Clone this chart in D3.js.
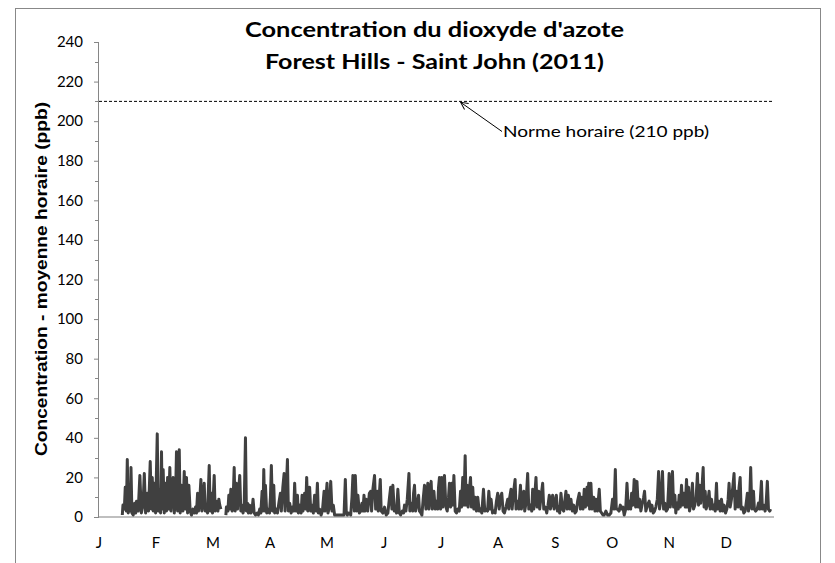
<!DOCTYPE html>
<html><head><meta charset="utf-8">
<script src="https://cdn.jsdelivr.net/npm/d3@7"></script>
<style>body{margin:0;background:#fff}svg{display:block}</style>
</head><body><div id="c"></div>
<script>
const titleLines = ["Concentration du dioxyde d'azote", "Forest Hills - Saint John (2011)"];
const yAxisTitle = "Concentration - moyenne horaire (ppb)";
const monthLabels = ["J","F","M","A","M","J","J","A","S","O","N","D"];
const monthTickDays = [0,30.8,61.6,92.5,123.3,154.2,185,215.8,246.7,277.5,308.3,339.2];
const yTicks = [0,20,40,60,80,100,120,140,160,180,200,220,240];
const normValue = 210;
const normLabel = "Norme horaire (210 ppb)";
const normArrowDay = 195.6;
// [day of year, NO2 ppb]; null = missing data
const seg1 = [[12.6,1],[12.96,6],[13.7,4],[14.2,15],[14.8,3],[15.3,29],[15.8,2],[16.4,16],[16.9,3],[17.3,25],[17.8,2],[18.5,1],[19.3,7],[19.8,2],[20.3,8],[21.2,3],[22.1,21],[22.9,2],[23.8,6],[24.5,22],[25.2,2],[26.1,12],[26.8,3],[27.7,28],[28.3,4],[28.8,20],[29.3,3],[29.9,17],[30.6,2],[31.5,42],[32.0,3],[32.8,14],[33.3,2],[33.8,33],[34.2,4],[34.7,24],[35.3,2],[36.0,17],[36.5,3],[37.1,20],[37.6,4],[38.3,25],[38.9,3],[39.6,14],[40.1,20],[40.7,2],[41.4,10],[41.9,33],[42.5,3],[43.4,34],[43.9,2],[44.6,16],[45.4,3],[46.1,23],[46.6,4],[47.3,20],[47.9,2],[48.6,16],[49.3,3],[50.0,1],[50.8,4],[51.5,2],[52.2,5],[52.7,2],[53.3,12],[53.8,3],[54.5,9],[55.1,19],[55.6,3],[56.3,8],[56.9,17],[57.4,3],[58.1,6],[58.7,2],[59.6,26],[60.1,3],[60.8,12],[61.4,2],[62.3,21],[62.8,3],[63.5,8],[64.3,3],[64.8,9],[65.3,6],[65.9,4]];
const seg2 = [[68.6,1],[68.9,5],[69.7,3],[70.2,11],[70.7,4],[71.3,14],[72.0,3],[72.5,8],[73.1,25],[73.6,3],[74.3,17],[74.9,4],[75.4,12],[76.1,21],[76.7,3],[77.4,6],[77.9,2],[78.5,5],[79.2,40],[79.7,3],[80.3,7],[80.8,2],[81.5,6],[82.1,2],[82.8,4],[83.3,9],[83.9,2],[84.6,1],[85.5,2],[86.2,1],[86.9,4],[87.5,2],[88.2,13],[88.7,3],[89.1,24],[89.6,3],[90.0,16],[90.7,2],[91.4,4],[92.2,2],[92.7,10],[93.2,26],[93.8,3],[94.5,16],[95.0,2],[95.9,4],[96.5,2],[97.4,8],[98.1,12],[98.6,3],[99.4,15],[100.1,22],[100.6,3],[101.3,15],[101.9,29],[102.4,3],[103.1,7],[103.9,2],[104.6,5],[105.3,3],[105.8,17],[106.4,3],[107.3,11],[107.8,2],[108.5,6],[109.3,2],[109.8,11],[110.3,3],[111.2,12],[111.8,4],[112.3,20],[112.9,3],[113.9,15],[114.5,3],[115.2,6],[115.9,2],[116.6,11],[117.4,3],[118.1,17],[118.6,2],[119.3,4],[120.1,1],[120.8,3],[121.7,13],[122.2,3],[123.3,17],[123.8,2],[124.6,5],[125.3,18],[126.0,3],[126.7,6],[127.4,1],[132.5,1],[133.2,19],[133.7,3],[134.3,1],[135.0,2],[136.1,1],[136.8,10],[137.3,21],[138.1,3],[138.6,21],[139.3,3],[140.0,11],[140.8,2],[141.5,3],[142.2,7],[142.7,3],[143.3,11],[143.8,3],[144.5,9],[145.3,3],[146.2,12],[146.9,13],[147.4,3],[148.1,14],[149.0,21],[149.6,4],[150.5,13],[151.0,3],[152.1,19],[152.6,3],[153.5,2],[154.4,5],[155.3,1],[156.2,2],[157.1,10],[157.7,15],[158.4,4],[158.9,16],[159.7,3],[160.4,4],[160.9,2],[161.6,14],[162.4,2],[163.1,1],[164.0,3],[164.7,2],[165.2,6],[165.96,3],[166.7,9],[167.6,22],[168.1,3],[168.8,7],[169.6,3],[170.1,12],[170.6,16],[171.2,3],[171.9,6],[172.8,11],[173.3,3],[174.1,2],[174.6,1],[175.3,9],[176.0,16],[176.8,4],[177.3,12],[177.8,17],[178.4,4],[179.1,14],[179.6,18],[180.2,4],[181.1,13],[181.8,4],[182.3,8],[183.1,4],[183.6,15],[184.1,20],[184.7,4],[185.4,20],[185.9,5],[186.8,21],[187.6,5],[188.3,3],[189.0,10],[189.5,17],[190.1,5],[190.8,17],[191.3,6],[191.9,21],[192.6,3],[193.3,2],[194.0,4],[194.8,3],[195.5,13],[196.0,5],[196.7,20],[197.3,6],[198.0,31],[198.5,6],[199.1,16],[199.6,5],[200.3,14],[200.9,20],[201.4,5],[202.1,15],[202.7,4],[203.4,10],[204.1,3],[204.8,10],[205.6,3],[206.3,4],[207.0,2],[207.9,14],[208.6,3],[209.3,4],[210.1,3],[210.8,13],[211.5,4],[212.0,9],[212.8,2],[213.5,3],[214.2,2],[214.9,8],[215.6,12],[216.4,4],[217.1,10],[217.8,12],[218.5,3],[219.2,2],[220.1,5],[221.0,9],[221.6,4],[222.1,10],[222.8,14],[223.4,4],[224.1,12],[225.0,19],[225.5,4],[226.3,8],[227.0,4],[227.9,16],[228.4,4],[229.1,10],[229.7,13],[230.2,3],[230.9,7],[231.8,22],[232.4,4],[233.3,6],[234.0,3],[234.5,14],[235.1,4],[235.8,13],[236.3,20],[236.9,5],[237.8,13],[238.3,4],[239.0,10],[239.9,17],[240.5,4],[241.4,5],[242.1,2],[242.8,6],[243.5,11],[244.1,4],[244.8,8],[245.3,11],[246.1,4],[247.3,11],[247.9,3],[248.6,5],[249.1,2],[249.8,12],[250.6,4],[251.3,3],[252.0,9],[252.5,13],[253.1,4],[253.8,11],[254.5,4],[255.2,9],[255.96,3],[256.7,6],[257.4,2],[258.1,3],[258.8,8],[259.7,12],[260.3,4],[261.0,10],[261.7,4],[262.4,14],[263.0,5],[263.9,15],[264.2,6],[264.8,17],[265.3,4],[266.0,17],[266.6,4],[267.5,10],[268.2,3],[268.7,9],[269.5,3],[270.5,14],[271.1,3],[271.8,2],[272.5,1],[273.2,1],[274.1,3],[275.0,1],[275.9,1],[276.8,2],[277.7,9],[278.5,4],[279.2,24],[279.7,4],[280.4,4],[281.2,3],[281.9,6],[282.6,4],[283.3,5],[284.0,1],[284.8,4],[285.5,17],[286.2,4],[286.9,8],[287.5,4],[288.0,12],[288.7,6],[289.4,19],[290.2,5],[290.9,18],[291.6,5],[292.3,9],[293.0,3],[293.8,7],[294.5,10],[295.0,13],[295.7,3],[296.6,6],[297.5,8],[298.3,3],[298.97,6],[299.7,2],[300.4,3],[301.1,5],[301.9,9],[302.6,23],[303.1,4],[303.8,8],[304.7,23],[305.3,4],[306.0,7],[306.7,3],[307.4,4],[308.0,15],[308.3,22],[308.9,5],[309.4,10],[310.1,23],[310.7,5],[311.4,11],[311.9,2],[312.5,7],[313.2,4],[313.7,11],[314.3,5],[315.0,16],[315.5,6],[316.3,12],[317.0,5],[317.7,19],[318.2,5],[318.8,15],[319.3,3],[320.0,6],[320.9,17],[321.5,4],[322.2,6],[322.9,10],[323.6,22],[324.2,6],[324.9,16],[325.4,7],[326.2,17],[326.7,25],[327.2,5],[327.8,13],[328.3,4],[329.0,6],[329.9,13],[330.5,4],[331.2,9],[331.9,4],[332.6,6],[333.2,3],[333.9,17],[334.4,4],[335.3,8],[335.9,3],[336.6,9],[337.3,3],[338.0,6],[338.8,2],[339.5,4],[340.2,9],[340.7,17],[341.3,5],[342.0,9],[342.7,15],[343.4,22],[344.0,4],[344.9,13],[345.6,5],[346.1,15],[346.7,20],[347.2,4],[347.9,5],[348.7,2],[349.4,3],[350.1,8],[350.6,12],[351.2,3],[351.9,10],[352.4,25],[353.0,4],[353.9,13],[354.4,4],[355.1,3],[355.9,4],[356.6,7],[357.3,4],[358.2,18],[358.7,4],[359.5,6],[360.2,3],[360.7,6],[361.4,18],[362.0,4],[362.7,3],[363.2,4]];
const series = seg1.concat([[67.2,null]], seg2);

const W = 835, H = 563;
const m = {left: 99, right: 774, top: 42, bottom: 517};
const svg = d3.select("#c").append("svg").attr("width", W).attr("height", H);
svg.append("rect").attr("x", 15.5).attr("y", 8.5).attr("width", 805).attr("height", 580)
  .attr("fill", "#fff").attr("stroke", "#888").attr("stroke-width", 1);

const x = d3.scaleLinear().domain([0, 365]).range([m.left, m.right]);
const y = d3.scaleLinear().domain([0, 240]).range([m.bottom, m.top]);

// Title
const titleFont = "Lato, 'Noto Sans', sans-serif";
svg.append("text").attr("x", 434.5).attr("y", 37).attr("text-anchor", "middle")
  .attr("font-family", titleFont).attr("font-weight", "bold").attr("font-size", 21)
  .attr("textLength", 379).attr("lengthAdjust", "spacingAndGlyphs").attr("fill", "#000").text(titleLines[0]);
svg.append("text").attr("x", 434.5).attr("y", 69).attr("text-anchor", "middle")
  .attr("font-family", titleFont).attr("font-weight", "bold").attr("font-size", 21)
  .attr("textLength", 339).attr("lengthAdjust", "spacingAndGlyphs").attr("fill", "#000").text(titleLines[1]);

// Y axis
const yAxis = d3.axisLeft(y).tickValues(yTicks).tickSize(5).tickPadding(11).tickFormat(d3.format("d"));
const gy = svg.append("g").attr("transform", `translate(${m.left},0)`).call(yAxis);
gy.select(".domain").attr("stroke", "#868686").attr("d", `M-0.5,${m.top}V${m.bottom}`);
gy.selectAll(".tick line").attr("stroke", "#868686");
gy.selectAll(".tick text").attr("font-family", "Lato, sans-serif").attr("font-size", 15).attr("fill", "#000");
// minor ticks
const minor = d3.range(10, 240, 20);
gy.selectAll(".minor").data(minor).enter().append("line").attr("class", "minor")
  .attr("x1", -4).attr("x2", 0).attr("y1", d => Math.round(y(d)) + 0.5).attr("y2", d => Math.round(y(d)) + 0.5)
  .attr("stroke", "#868686");

// X axis baseline
svg.append("line").attr("x1", m.left).attr("x2", m.right).attr("y1", y(0)).attr("y2", y(0))
  .attr("stroke", "#bfbfbf").attr("stroke-width", 2);
svg.append("g").selectAll("text").data(monthLabels).enter().append("text")
  .attr("x", (d, i) => x(monthTickDays[i])).attr("y", 548).attr("text-anchor", "middle")
  .attr("font-family", "Lato, sans-serif").attr("font-size", 15).attr("fill", "#000").text(d => d);

// Y axis title
svg.append("text").attr("transform", `translate(47,279) rotate(-90)`).attr("text-anchor", "middle")
  .attr("font-family", "'Liberation Sans', Arial, sans-serif").attr("font-weight", "bold").attr("font-size", 16)
  .attr("textLength", 354).attr("lengthAdjust", "spacingAndGlyphs").text(yAxisTitle);

// Norm line
svg.append("line").attr("x1", m.left).attr("x2", m.right).attr("y1", y(normValue)).attr("y2", y(normValue))
  .attr("stroke", "#000").attr("stroke-width", 1).attr("stroke-dasharray", "3,2");

// Data line
const line = d3.line().defined(d => d[1] !== null).x(d => x(d[0])).y(d => y(d[1]));
svg.append("path").datum(series).attr("d", line).attr("fill", "none")
  .attr("stroke", "#404040").attr("stroke-width", 3).attr("stroke-linejoin", "round");

// Annotation
svg.append("defs").append("marker").attr("id", "arr").attr("viewBox", "0 0 10 10").attr("refX", 9).attr("refY", 5)
  .attr("markerWidth", 9).attr("markerHeight", 9).attr("orient", "auto-start-reverse").attr("markerUnits", "userSpaceOnUse")
  .append("path").attr("d", "M1,1L9,5L1,9").attr("fill", "none").attr("stroke", "#000").attr("stroke-width", 1.1);
svg.append("line").attr("x1", 502).attr("y1", 131.5).attr("x2", x(normArrowDay)).attr("y2", y(normValue) + 1)
  .attr("stroke", "#000").attr("stroke-width", 1).attr("marker-end", "url(#arr)");
svg.append("text").attr("x", 503).attr("y", 137).attr("font-family", "Lato, sans-serif").attr("font-size", 16)
  .attr("textLength", 206).attr("lengthAdjust", "spacingAndGlyphs").text(normLabel);
</script></body></html>
